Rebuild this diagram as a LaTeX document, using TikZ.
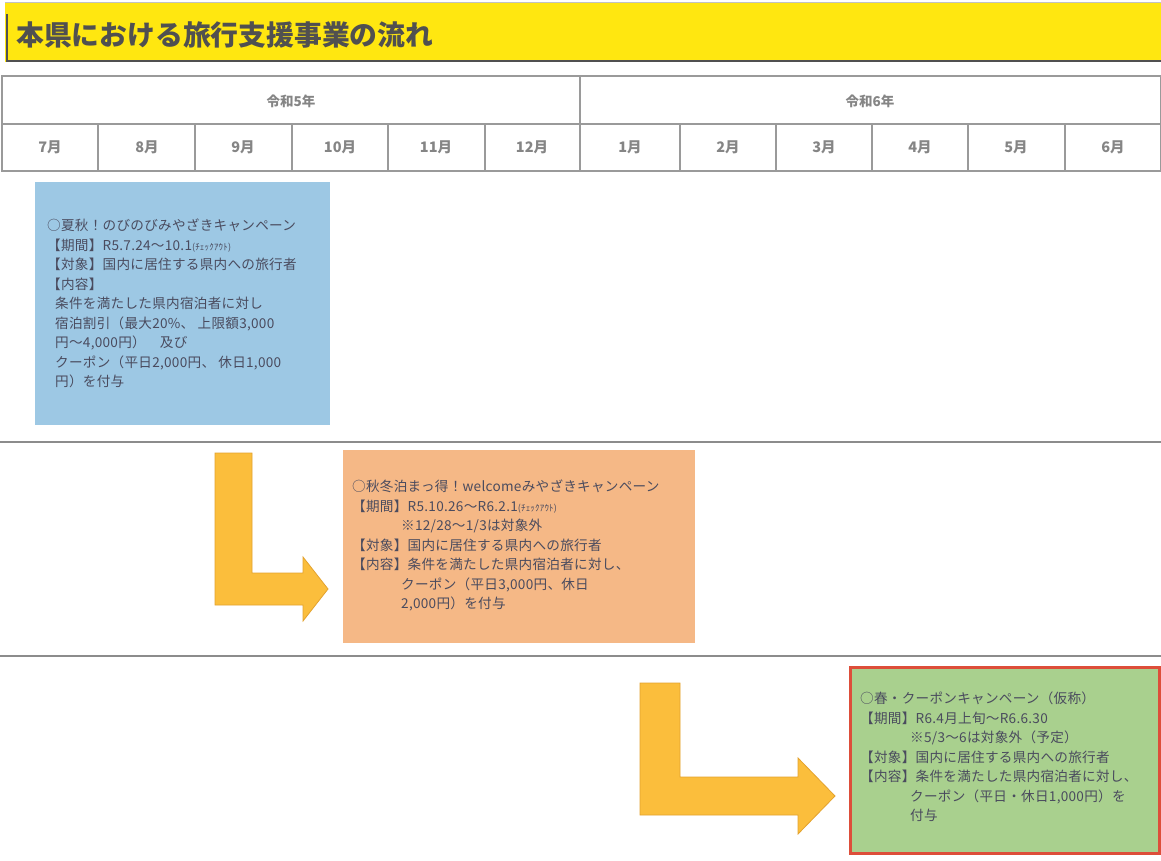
\documentclass[tikz,border=0pt]{standalone}
\usepackage{fontspec}
\setmainfont{Noto Sans CJK JP}
\newfontfamily\boxfont[LetterSpace=2]{Noto Sans CJK JP}
\definecolor{titley}{HTML}{FFE710}
\definecolor{titletxt}{HTML}{505050}
\definecolor{gridc}{HTML}{9A9A9A}
\definecolor{headtxt}{HTML}{858585}
\definecolor{boxtxt}{HTML}{4A4B5E}
\definecolor{blueb}{HTML}{9DC8E4}
\definecolor{orangeb}{HTML}{F5B886}
\definecolor{greenb}{HTML}{A9D08E}
\definecolor{redb}{HTML}{DD4E3A}
\definecolor{arrowc}{HTML}{FBBE3C}
\definecolor{arrowe}{HTML}{E3A22E}
\definecolor{sepc}{HTML}{8C8C8C}
\tikzset{
  gridline/.style={draw=gridc, line width=1.6pt},
  yeartxt/.style={font=\bfseries\fontsize{13.5}{15}\selectfont, text=headtxt},
  monthtxt/.style={font=\bfseries\fontsize{14.5}{16}\selectfont, text=headtxt},
  boxtext/.style={anchor=north west, inner sep=0pt, align=left, text=boxtxt,
                  font=\boxfont\fontsize{13.6}{19.5}\selectfont},
  bentarrow/.style={fill=arrowc, draw=arrowe, line width=0.8pt, line join=miter},
  sepline/.style={draw=sepc, line width=2pt}
}
\begin{document}
\begin{tikzpicture}[x=1pt,y=-1pt]
\useasboundingbox (0,0) rectangle (1161,861);
\fill[white] (0,0) rectangle (1161,861);
% title bar
\fill[titley] (5,3) rectangle (1161,62);
\draw[gridc!60, line width=1pt] (5,3) -- (1161,3);
\draw[titletxt, line width=1.6pt] (7,14) -- (7,61) -- (1161,61);
\node[anchor=west, inner sep=0pt, text=titletxt, font=\bfseries\fontsize{27.8}{30}\selectfont] (title) at (16,35) {本県における旅行支援事業の流れ};
% table
\draw[gridline] (2,76) rectangle (1161,171);
\draw[gridline] (2,124) -- (1161,124);
\draw[gridline] (580,76) -- (580,171);
\foreach \x in {98,195,292,388,485,680,776,872,968,1065}{
  \draw[gridline] (\x,124) -- (\x,171);
}
\node[yeartxt] (y5) at (291,101) {令和5年};
\node[yeartxt] (y6) at (870,101) {令和6年};
\foreach \m/\x in {7/50,8/147,9/243,10/340,11/436,12/532,1/630,2/728,3/824,4/920,5/1016,6/1113}{
  \node[monthtxt] (m\m) at (\x,147) {\m 月};
}
% separators
\draw[sepline] (0,442) -- (1161,442);
\draw[sepline] (0,656) -- (1161,656);
% box 1
\fill[blueb] (35,182) rectangle (330,425);
\node[boxtext] (t1) at (47,219) {○夏秋！のびのびみやざきキャンペーン\\
【期間】R5.7.24～10.1{\fontsize{9}{10}\selectfont (ﾁｪｯｸｱｳﾄ)}\\
【対象】国内に居住する県内への旅行者\\
【内容】\\
\hspace*{8pt}条件を満たした県内宿泊者に対し\\
\hspace*{8pt}宿泊割引（最大20\%、 上限額3,000\\
\hspace*{8pt}円～4,000円）　及び\\
\hspace*{8pt}クーポン（平日2,000円、 休日1,000\\
\hspace*{8pt}円）を付与};
% box 2
\fill[orangeb] (343,450) rectangle (695,643);
\node[boxtext] (t2) at (352,480) {○秋冬泊まっ得！welcomeみやざきキャンペーン\\
【期間】R5.10.26～R6.2.1{\fontsize{9}{10}\selectfont (ﾁｪｯｸｱｳﾄ)}\\
\hspace*{49pt}※12/28～1/3は対象外\\
【対象】国内に居住する県内への旅行者\\
【内容】条件を満たした県内宿泊者に対し、\\
\hspace*{49pt}クーポン（平日3,000円、休日\\
\hspace*{49pt}2,000円）を付与};
% box 3
\fill[greenb] (850,667) rectangle (1159,853);
\draw[redb, line width=3pt] (850,667) rectangle (1159,853);
\node[boxtext] (t3) at (860,692) {○春・クーポンキャンペーン（仮称）\\
【期間】R6.4月上旬～R6.6.30\\
\hspace*{50pt}※5/3～6は対象外（予定）\\
【対象】国内に居住する県内への旅行者\\
【内容】条件を満たした県内宿泊者に対し、\\
\hspace*{50pt}クーポン（平日・休日1,000円）を\\
\hspace*{50pt}付与};
% bent arrows
\draw[bentarrow] (215,453) -- (252,453) -- (252,573) -- (303,573) -- (303,557) -- (328,589) -- (303,621) -- (303,605) -- (215,605) -- cycle;
\draw[bentarrow] (640,683) -- (680,683) -- (680,777) -- (798,777) -- (798,758) -- (835,796) -- (798,834) -- (798,815) -- (640,815) -- cycle;
\end{tikzpicture}
\end{document}
